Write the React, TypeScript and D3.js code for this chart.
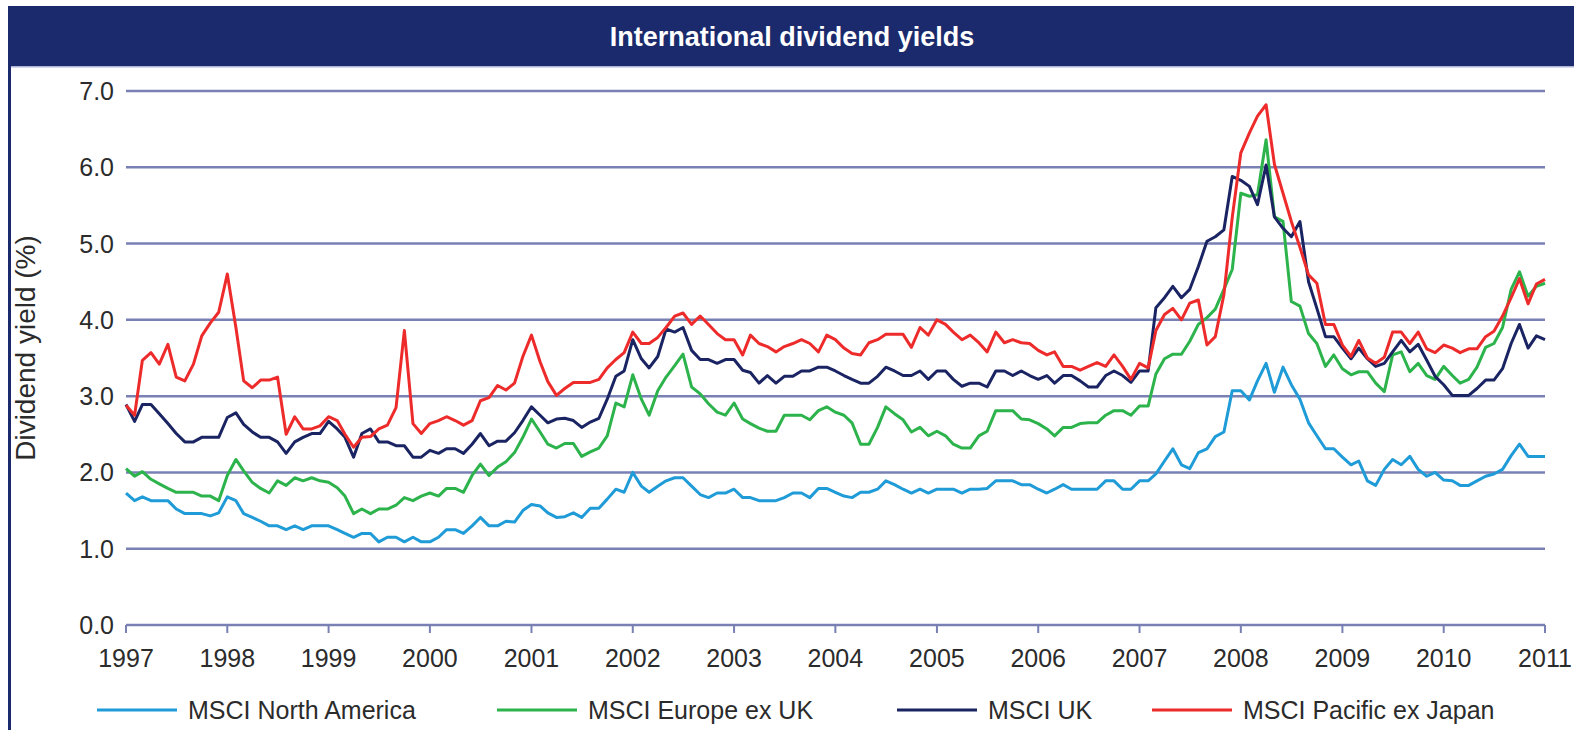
import React, { useEffect, useRef } from 'react';
import * as d3 from 'd3';

// monthly dividend yields (%), Jan 1997 .. Jan 2011
const northAmerica = [
  1.73, 1.63, 1.68, 1.63, 1.63, 1.63, 1.52, 1.46, 1.46, 1.46, 1.43, 1.47,
  1.68, 1.63, 1.46, 1.41, 1.36, 1.30, 1.30, 1.25, 1.30, 1.25, 1.30, 1.30,
  1.30, 1.25, 1.20, 1.15, 1.20, 1.20, 1.09, 1.15, 1.15, 1.09, 1.15, 1.09,
  1.09, 1.15, 1.25, 1.25, 1.20, 1.30, 1.41, 1.30, 1.30, 1.36, 1.35, 1.50,
  1.58, 1.56, 1.47, 1.41, 1.42, 1.47, 1.41, 1.53, 1.53, 1.65, 1.78, 1.74,
  2.00, 1.82, 1.74, 1.82, 1.89, 1.93, 1.93, 1.82, 1.71, 1.67, 1.73, 1.73,
  1.78, 1.67, 1.67, 1.63, 1.63, 1.63, 1.67, 1.73, 1.73, 1.67, 1.79, 1.79,
  1.74, 1.69, 1.67, 1.74, 1.74, 1.78, 1.89, 1.84, 1.78, 1.73, 1.78, 1.73,
  1.78, 1.78, 1.78, 1.73, 1.78, 1.78, 1.79, 1.89, 1.89, 1.89, 1.84, 1.84,
  1.78, 1.73, 1.78, 1.84, 1.78, 1.78, 1.78, 1.78, 1.89, 1.89, 1.78, 1.78,
  1.89, 1.89, 1.98, 2.15, 2.31, 2.10, 2.05, 2.26, 2.31, 2.47, 2.53, 3.07,
  3.07, 2.95, 3.20, 3.43, 3.05, 3.38, 3.15, 2.96, 2.65, 2.48, 2.31, 2.31,
  2.20, 2.10, 2.15, 1.89, 1.83, 2.04, 2.17, 2.10, 2.21, 2.04, 1.95, 2.00,
  1.90, 1.89, 1.83, 1.83, 1.89, 1.95, 1.98, 2.04, 2.22, 2.37, 2.21, 2.21, 2.21
];

const europeExUk = [
  2.05, 1.95, 2.01, 1.91, 1.85, 1.79, 1.74, 1.74, 1.74, 1.69, 1.69, 1.63,
  1.96, 2.17, 2.02, 1.87, 1.79, 1.73, 1.89, 1.83, 1.93, 1.89, 1.93, 1.89,
  1.87, 1.80, 1.69, 1.46, 1.52, 1.46, 1.52, 1.52, 1.57, 1.67, 1.63, 1.69,
  1.73, 1.69, 1.79, 1.79, 1.74, 1.96, 2.11, 1.96, 2.07, 2.14, 2.26, 2.46,
  2.70, 2.53, 2.37, 2.32, 2.38, 2.38, 2.21, 2.27, 2.32, 2.48, 2.91, 2.86,
  3.28, 2.96, 2.75, 3.07, 3.25, 3.40, 3.55, 3.12, 3.03, 2.90, 2.79, 2.75,
  2.91, 2.70, 2.64, 2.58, 2.54, 2.54, 2.75, 2.75, 2.75, 2.69, 2.81, 2.86,
  2.79, 2.75, 2.65, 2.37, 2.37, 2.59, 2.86, 2.77, 2.69, 2.53, 2.59, 2.48,
  2.54, 2.48, 2.37, 2.32, 2.32, 2.48, 2.54, 2.81, 2.81, 2.81, 2.70, 2.69,
  2.64, 2.57, 2.48, 2.59, 2.59, 2.64, 2.65, 2.65, 2.75, 2.81, 2.81, 2.75,
  2.87, 2.87, 3.29, 3.49, 3.55, 3.55, 3.72, 3.94, 4.03, 4.14, 4.40, 4.66,
  5.66, 5.62, 5.64, 6.36, 5.35, 5.29, 4.24, 4.18, 3.82, 3.69, 3.39, 3.54,
  3.36, 3.28, 3.32, 3.32, 3.17, 3.06, 3.54, 3.58, 3.32, 3.43, 3.27, 3.22,
  3.39, 3.27, 3.17, 3.22, 3.38, 3.64, 3.69, 3.90, 4.40, 4.63, 4.31, 4.44, 4.48
];

const uk = [
  2.89, 2.67, 2.89, 2.89, 2.77, 2.64, 2.51, 2.40, 2.40, 2.46, 2.46, 2.46,
  2.72, 2.78, 2.63, 2.53, 2.46, 2.46, 2.40, 2.25, 2.40, 2.46, 2.51, 2.51,
  2.67, 2.57, 2.46, 2.20, 2.51, 2.57, 2.40, 2.40, 2.35, 2.35, 2.20, 2.20,
  2.29, 2.25, 2.31, 2.31, 2.25, 2.37, 2.51, 2.35, 2.41, 2.41, 2.52, 2.68,
  2.86, 2.75, 2.65, 2.70, 2.71, 2.68, 2.59, 2.66, 2.71, 2.96, 3.26, 3.33,
  3.74, 3.49, 3.37, 3.52, 3.88, 3.84, 3.90, 3.60, 3.48, 3.48, 3.43, 3.48,
  3.48, 3.34, 3.31, 3.17, 3.27, 3.17, 3.26, 3.26, 3.33, 3.33, 3.38, 3.38,
  3.33, 3.27, 3.22, 3.17, 3.17, 3.26, 3.38, 3.33, 3.27, 3.27, 3.33, 3.22,
  3.33, 3.33, 3.22, 3.13, 3.17, 3.17, 3.12, 3.33, 3.33, 3.27, 3.33, 3.27,
  3.22, 3.27, 3.17, 3.27, 3.27, 3.20, 3.12, 3.12, 3.27, 3.33, 3.27, 3.18,
  3.33, 3.33, 4.16, 4.29, 4.44, 4.29, 4.40, 4.70, 5.03, 5.09, 5.18, 5.88,
  5.83, 5.75, 5.51, 6.03, 5.35, 5.20, 5.09, 5.29, 4.50, 4.15, 3.78, 3.78,
  3.63, 3.49, 3.63, 3.49, 3.39, 3.43, 3.58, 3.73, 3.58, 3.68, 3.47, 3.26,
  3.15, 3.01, 3.01, 3.01, 3.10, 3.21, 3.21, 3.36, 3.69, 3.94, 3.63, 3.79, 3.74
];

const pacificExJapan = [
  2.88, 2.75, 3.47, 3.57, 3.42, 3.68, 3.25, 3.20, 3.42, 3.79, 3.96, 4.10,
  4.60, 3.90, 3.20, 3.11, 3.21, 3.21, 3.25, 2.50, 2.73, 2.57, 2.57, 2.61,
  2.73, 2.68, 2.50, 2.33, 2.46, 2.47, 2.57, 2.62, 2.85, 3.86, 2.64, 2.51,
  2.64, 2.68, 2.73, 2.68, 2.62, 2.68, 2.94, 2.98, 3.14, 3.08, 3.17, 3.52,
  3.80, 3.45, 3.19, 3.01, 3.10, 3.18, 3.18, 3.18, 3.22, 3.37, 3.48, 3.57,
  3.84, 3.69, 3.69, 3.77, 3.90, 4.05, 4.09, 3.94, 4.05, 3.94, 3.82, 3.74,
  3.74, 3.54, 3.80, 3.69, 3.65, 3.58, 3.65, 3.69, 3.74, 3.69, 3.58, 3.80,
  3.74, 3.63, 3.56, 3.54, 3.70, 3.74, 3.81, 3.81, 3.81, 3.64, 3.90, 3.80,
  4.00, 3.94, 3.84, 3.74, 3.80, 3.70, 3.58, 3.84, 3.70, 3.74, 3.70, 3.69,
  3.60, 3.54, 3.58, 3.39, 3.39, 3.34, 3.39, 3.44, 3.39, 3.54, 3.39, 3.22,
  3.43, 3.37, 3.86, 4.07, 4.15, 4.00, 4.22, 4.26, 3.67, 3.78, 4.33, 5.34,
  6.19, 6.45, 6.67, 6.82, 6.04, 5.66, 5.29, 4.95, 4.59, 4.48, 3.94, 3.94,
  3.67, 3.52, 3.73, 3.50, 3.43, 3.51, 3.84, 3.84, 3.69, 3.84, 3.62, 3.57,
  3.67, 3.63, 3.57, 3.62, 3.62, 3.78, 3.85, 4.05, 4.29, 4.54, 4.21, 4.47, 4.53
];

const yearTicks = [1997, 1998, 1999, 2000, 2001, 2002, 2003, 2004, 2005, 2006, 2007, 2008, 2009, 2010, 2011];
const yTicks = [0, 1, 2, 3, 4, 5, 6, 7];

const series = [
  { name: 'MSCI North America', values: northAmerica, color: '#1f9bd7' },
  { name: 'MSCI Europe ex UK', values: europeExUk, color: '#2db34b' },
  { name: 'MSCI UK', values: uk, color: '#1b2463' },
  { name: 'MSCI Pacific ex Japan', values: pacificExJapan, color: '#ee2b2b' },
];

const legendX = [97, 497, 897, 1152];
const font = '"Liberation Sans", Arial, Helvetica, sans-serif';
const navy = '#1a2a6c';

const App = () => {
  const svgRef = useRef(null);

  useEffect(() => {
    if (!svgRef.current) return;
    const svg = d3.select(svgRef.current);
    svg.selectAll('*').remove();

    const x = d3.scaleTime()
      .domain([new Date(1997, 0, 1), new Date(2011, 0, 1)])
      .range([126, 1545]);
    const y = d3.scaleLinear().domain([0, 7]).range([625, 91]);

    // header bar and frame
    svg.append('rect').attr('x', 8).attr('y', 6).attr('width', 1566).attr('height', 60).attr('fill', navy);
    svg.append('rect').attr('x', 8).attr('y', 66).attr('width', 1566).attr('height', 1.5).attr('fill', '#aeb4d6');
    svg.append('rect').attr('x', 8).attr('y', 66).attr('width', 3).attr('height', 664).attr('fill', navy);
    svg.append('text')
      .attr('x', 792).attr('y', 46)
      .attr('text-anchor', 'middle')
      .attr('fill', '#fff')
      .style('font-family', font)
      .style('font-size', '27px')
      .style('font-weight', 'bold')
      .text('International dividend yields');

    const g = svg.append('g');

    // gridlines
    g.selectAll('line.grid')
      .data(yTicks.filter(d => d > 0))
      .enter()
      .append('line')
      .attr('x1', 126).attr('x2', 1545)
      .attr('y1', d => y(d)).attr('y2', d => y(d))
      .attr('stroke', '#7880b4')
      .attr('stroke-width', 2.5);

    // x axis line + ticks
    g.append('line')
      .attr('x1', 126).attr('x2', 1545)
      .attr('y1', y(0)).attr('y2', y(0))
      .attr('stroke', '#7880b4').attr('stroke-width', 2.5);
    g.selectAll('line.tick')
      .data(yearTicks)
      .enter()
      .append('line')
      .attr('x1', d => x(new Date(d, 0, 1))).attr('x2', d => x(new Date(d, 0, 1)))
      .attr('y1', y(0)).attr('y2', y(0) + 8)
      .attr('stroke', '#7880b4').attr('stroke-width', 2);

    g.selectAll('text.year')
      .data(yearTicks)
      .enter()
      .append('text')
      .attr('x', d => x(new Date(d, 0, 1)))
      .attr('y', 667)
      .attr('text-anchor', 'middle')
      .attr('fill', '#2b2b2b')
      .style('font-family', font)
      .style('font-size', '25px')
      .text(d => d);

    g.selectAll('text.ytick')
      .data(yTicks)
      .enter()
      .append('text')
      .attr('x', 114)
      .attr('y', d => y(d) + 9)
      .attr('text-anchor', 'end')
      .attr('fill', '#2b2b2b')
      .style('font-family', font)
      .style('font-size', '25px')
      .text(d => d3.format('.1f')(d));

    svg.append('text')
      .attr('transform', 'translate(35,348) rotate(-90)')
      .attr('text-anchor', 'middle')
      .attr('fill', '#2b2b2b')
      .style('font-family', font)
      .style('font-size', '28px')
      .text('Dividend yield (%)');

    const line = d3.line()
      .x((d, i) => x(new Date(1997, i, 1)))
      .y(d => y(d));

    series.forEach(s => {
      g.append('path')
        .datum(s.values)
        .attr('d', line)
        .attr('fill', 'none')
        .attr('stroke', s.color)
        .attr('stroke-width', 3)
        .attr('stroke-linejoin', 'round');
    });

    // legend
    const legend = svg.append('g');
    series.forEach((s, i) => {
      legend.append('line')
        .attr('x1', legendX[i]).attr('x2', legendX[i] + 80)
        .attr('y1', 710).attr('y2', 710)
        .attr('stroke', s.color).attr('stroke-width', 3);
      legend.append('text')
        .attr('x', legendX[i] + 91)
        .attr('y', 719)
        .attr('fill', '#2b2b2b')
        .style('font-family', font)
        .style('font-size', '25px')
        .text(s.name);
    });
  }, []);

  return (
    <svg ref={svgRef} width={1574} height={730} style={{ position: 'absolute', left: 0, top: 0, background: '#fff' }}></svg>
  );
};

export default App;
